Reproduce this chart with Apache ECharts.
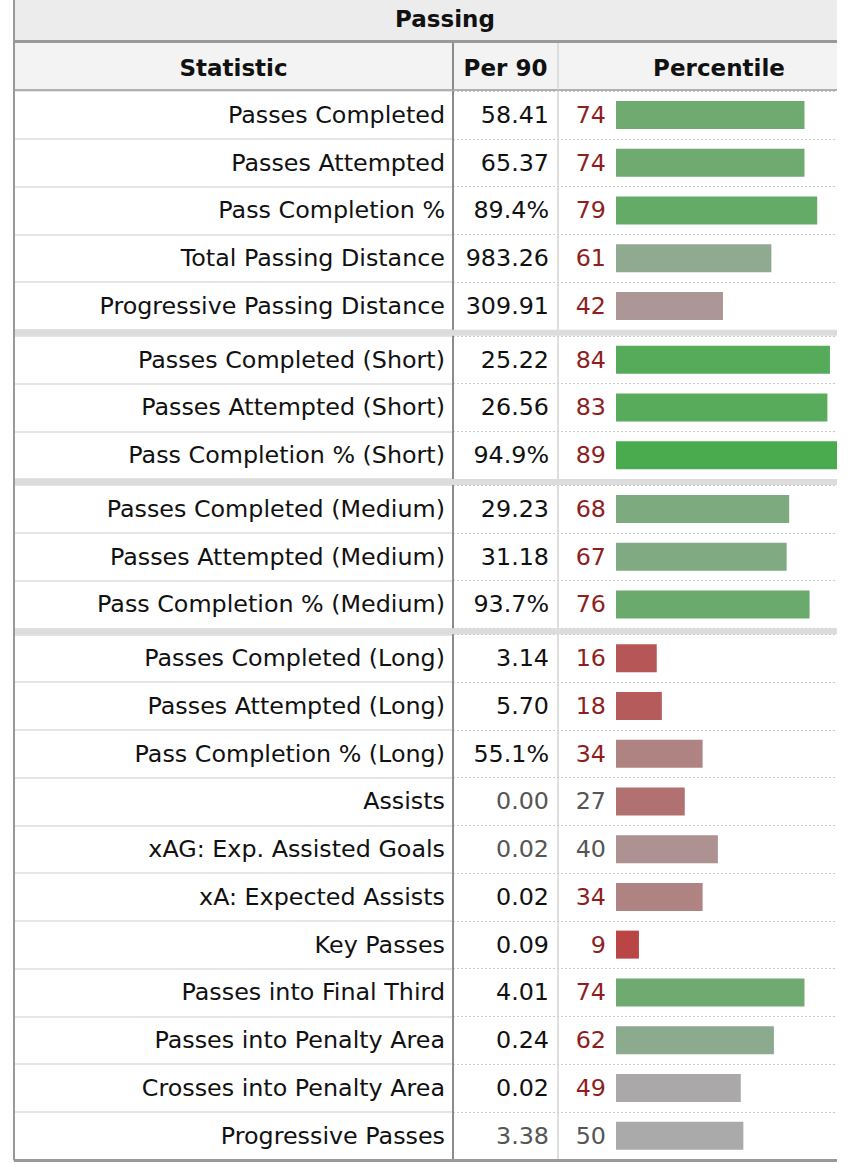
<!DOCTYPE html>
<html>
<head>
<meta charset="utf-8">
<script src="https://cdn.jsdelivr.net/npm/echarts@6/dist/echarts.min.js"></script>
<style>html,body{margin:0;padding:0;background:#fff}#c{width:850px;height:1163px}</style>
</head>
<body>
<div id="c"></div>
<script>
// ---------------- data ----------------
const title = 'Passing';
const columnHeaders = ['Statistic', 'Per 90', 'Percentile'];
const groupSizes = [5, 3, 3, 11];
const statistics = [
  'Passes Completed', 'Passes Attempted', 'Pass Completion %', 'Total Passing Distance', 'Progressive Passing Distance',
  'Passes Completed (Short)', 'Passes Attempted (Short)', 'Pass Completion % (Short)',
  'Passes Completed (Medium)', 'Passes Attempted (Medium)', 'Pass Completion % (Medium)',
  'Passes Completed (Long)', 'Passes Attempted (Long)', 'Pass Completion % (Long)', 'Assists',
  'xAG: Exp. Assisted Goals', 'xA: Expected Assists', 'Key Passes', 'Passes into Final Third',
  'Passes into Penalty Area', 'Crosses into Penalty Area', 'Progressive Passes'
];
const per90 = [
  '58.41', '65.37', '89.4%', '983.26', '309.91',
  '25.22', '26.56', '94.9%',
  '29.23', '31.18', '93.7%',
  '3.14', '5.70', '55.1%', '0.00', '0.02', '0.02', '0.09', '4.01', '0.24', '0.02', '3.38'
];
const percentiles = [
  74, 74, 79, 61, 42,
  84, 83, 89,
  68, 67, 76,
  16, 18, 34, 27, 40, 34, 9, 74, 62, 49, 50
];
const muted = [
  false, false, false, false, false,
  false, false, false,
  false, false, false,
  false, false, false, true, true, false, false, false, false, false, true
];

// ---------------- layout / style ----------------
const TABLE_L = 14, TABLE_R = 837;
const COL1 = 453, COL2 = 558, PCT_R = 606;
const TOP_Y = 91, ROW = 47.75, BAND = 6;
const BAR_ZERO = 616, PX_PER_PCT = 2.547;
const FONT = '"DejaVu Sans", Verdana, sans-serif';
const FS = 23.8, HFS = 23;
const RED_TXT = '#8e1f1f', MUTED_TXT = '#555555', TXT = '#111111';

const xMin = -(BAR_ZERO - COL1) / PX_PER_PCT;
const xMax = (TABLE_R - BAR_ZERO) / PX_PER_PCT;

const GREY = [170, 170, 170], GREEN = [47, 171, 52], RED = [188, 47, 47];
function mix(a, b, t) {
  return 'rgb(' + a.map((v, i) => Math.round(v + (b[i] - v) * t)).join(',') + ')';
}
function barColor(p) {
  return p >= 50 ? mix(GREY, GREEN, (p - 50) / 50) : mix(GREY, RED, (50 - p) / 50);
}

const grids = [], xAxes = [], yAxes = [], series = [], graphics = [];
const noBounds = { containLabel: false, outerBoundsMode: 'none' };

// header chrome
graphics.push(
  { type: 'rect', shape: { x: TABLE_L, y: 0, width: TABLE_R - TABLE_L, height: 41 }, style: { fill: '#ececec' }, z: 0 },
  { type: 'rect', shape: { x: TABLE_L, y: 43, width: TABLE_R - TABLE_L, height: 47 }, style: { fill: '#f3f3f3' }, z: 0 },
  { type: 'line', shape: { x1: TABLE_L, y1: 41.5, x2: TABLE_R, y2: 41.5 }, style: { stroke: '#999999', lineWidth: 3 }, z: 10 },
  { type: 'line', shape: { x1: TABLE_L, y1: 90, x2: TABLE_R, y2: 90 }, style: { stroke: '#b0b0b0', lineWidth: 2 }, z: 10 },
  { type: 'line', shape: { x1: COL1, y1: 43, x2: COL1, y2: 90 }, style: { stroke: '#8c8c8c', lineWidth: 2 }, z: 10 },
  { type: 'line', shape: { x1: COL2, y1: 43, x2: COL2, y2: 90 }, style: { stroke: '#d4d4d4', lineWidth: 1.5 }, z: 10 },
  { type: 'text', x: 445, y: 19, style: { text: title, fontFamily: FONT, fontSize: HFS, fontWeight: 'bold', fill: '#111', align: 'center', verticalAlign: 'middle' }, z: 10 },
  { type: 'text', x: (TABLE_L + COL1) / 2, y: 68, style: { text: columnHeaders[0], fontFamily: FONT, fontSize: HFS, fontWeight: 'bold', fill: '#111', align: 'center', verticalAlign: 'middle' }, z: 10 },
  { type: 'text', x: (COL1 + COL2) / 2, y: 68, style: { text: columnHeaders[1], fontFamily: FONT, fontSize: HFS, fontWeight: 'bold', fill: '#111', align: 'center', verticalAlign: 'middle' }, z: 10 },
  { type: 'text', x: 719, y: 68, style: { text: columnHeaders[2], fontFamily: FONT, fontSize: HFS, fontWeight: 'bold', fill: '#111', align: 'center', verticalAlign: 'middle' }, z: 10 }
);

let start = 0, curY = TOP_Y;
groupSizes.forEach((n, g) => {
  const s = start;
  const h = n * ROW;
  const names = statistics.slice(s, s + n);
  const vals = per90.slice(s, s + n);
  const pcts = percentiles.slice(s, s + n);
  const mut = muted.slice(s, s + n);

  // statistic column grid (solid row lines)
  grids.push(Object.assign({ left: TABLE_L, top: curY, width: COL1 - TABLE_L, height: h }, noBounds));
  const sg = grids.length - 1;
  xAxes.push({ gridIndex: sg, type: 'value', min: 0, max: 1, show: false });
  yAxes.push({
    gridIndex: sg, type: 'category', data: names, inverse: true, position: 'left',
    axisLine: { show: false, onZero: false }, axisTick: { show: false }, axisLabel: { show: false },
    splitLine: { show: true, lineStyle: { color: '#dcdcdc', width: 1.5 } }
  });

  // bar grid
  grids.push(Object.assign({ left: COL1, top: curY, width: TABLE_R - COL1, height: h }, noBounds));
  const bg = grids.length - 1;
  const bx = xAxes.length;
  xAxes.push({ gridIndex: bg, type: 'value', min: xMin, max: xMax, show: false });
  const by = yAxes.length;
  yAxes.push({
    gridIndex: bg, type: 'category', data: names, inverse: true, position: 'left',
    axisLine: { show: true, onZero: false, lineStyle: { color: '#8c8c8c', width: 2 } },
    axisTick: { show: false },
    axisLabel: { interval: 0, margin: 8, fontFamily: FONT, fontSize: FS, color: TXT },
    splitLine: { show: true, lineStyle: { color: '#c8c8c8', width: 1.2, type: [2, 2] } }
  });
  yAxes.push({
    gridIndex: bg, type: 'category', data: vals, inverse: true, position: 'left', offset: -(COL2 - COL1),
    axisLine: { show: true, onZero: false, lineStyle: { color: '#d4d4d4', width: 1.5 } },
    axisTick: { show: false },
    axisLabel: {
      interval: 0, margin: 9,
      formatter: (v, i) => (mut[i] ? '{m|' : '{n|') + v + '}',
      rich: {
        n: { fontFamily: FONT, fontSize: FS, color: TXT },
        m: { fontFamily: FONT, fontSize: FS, color: MUTED_TXT }
      }
    },
    splitLine: { show: false }
  });
  yAxes.push({
    gridIndex: bg, type: 'category', data: pcts.map(String), inverse: true, position: 'left', offset: -(PCT_R - COL1),
    axisLine: { show: false, onZero: false }, axisTick: { show: false },
    axisLabel: {
      interval: 0, margin: 0,
      formatter: (v, i) => (mut[i] ? '{m|' : '{r|') + v + '}',
      rich: {
        r: { fontFamily: FONT, fontSize: FS, color: RED_TXT },
        m: { fontFamily: FONT, fontSize: FS, color: MUTED_TXT }
      }
    },
    splitLine: { show: false }
  });

  series.push({
    type: 'bar', xAxisIndex: bx, yAxisIndex: by, data: pcts, barWidth: 28,
    itemStyle: { color: (p) => barColor(p.value) }, silent: true
  });

  curY += h;
  if (g < groupSizes.length - 1) {
    graphics.push({ type: 'rect', shape: { x: TABLE_L, y: curY, width: TABLE_R - TABLE_L, height: BAND }, style: { fill: '#dcdcdc' }, z: 10 });
    curY += BAND;
  }
  start += n;
});

// outer borders
graphics.push(
  { type: 'line', shape: { x1: TABLE_L, y1: 0, x2: TABLE_L, y2: curY + 1 }, style: { stroke: '#999999', lineWidth: 2 }, z: 11 },
  { type: 'line', shape: { x1: TABLE_L, y1: curY + 1, x2: TABLE_R, y2: curY + 1 }, style: { stroke: '#999999', lineWidth: 3 }, z: 11 }
);

const chart = echarts.init(document.getElementById('c'), null, { renderer: 'svg' });
chart.setOption({
  animation: false,
  backgroundColor: '#ffffff',
  grid: grids,
  xAxis: xAxes,
  yAxis: yAxes,
  series: series,
  graphic: { elements: graphics }
});
</script>
</body>
</html>
